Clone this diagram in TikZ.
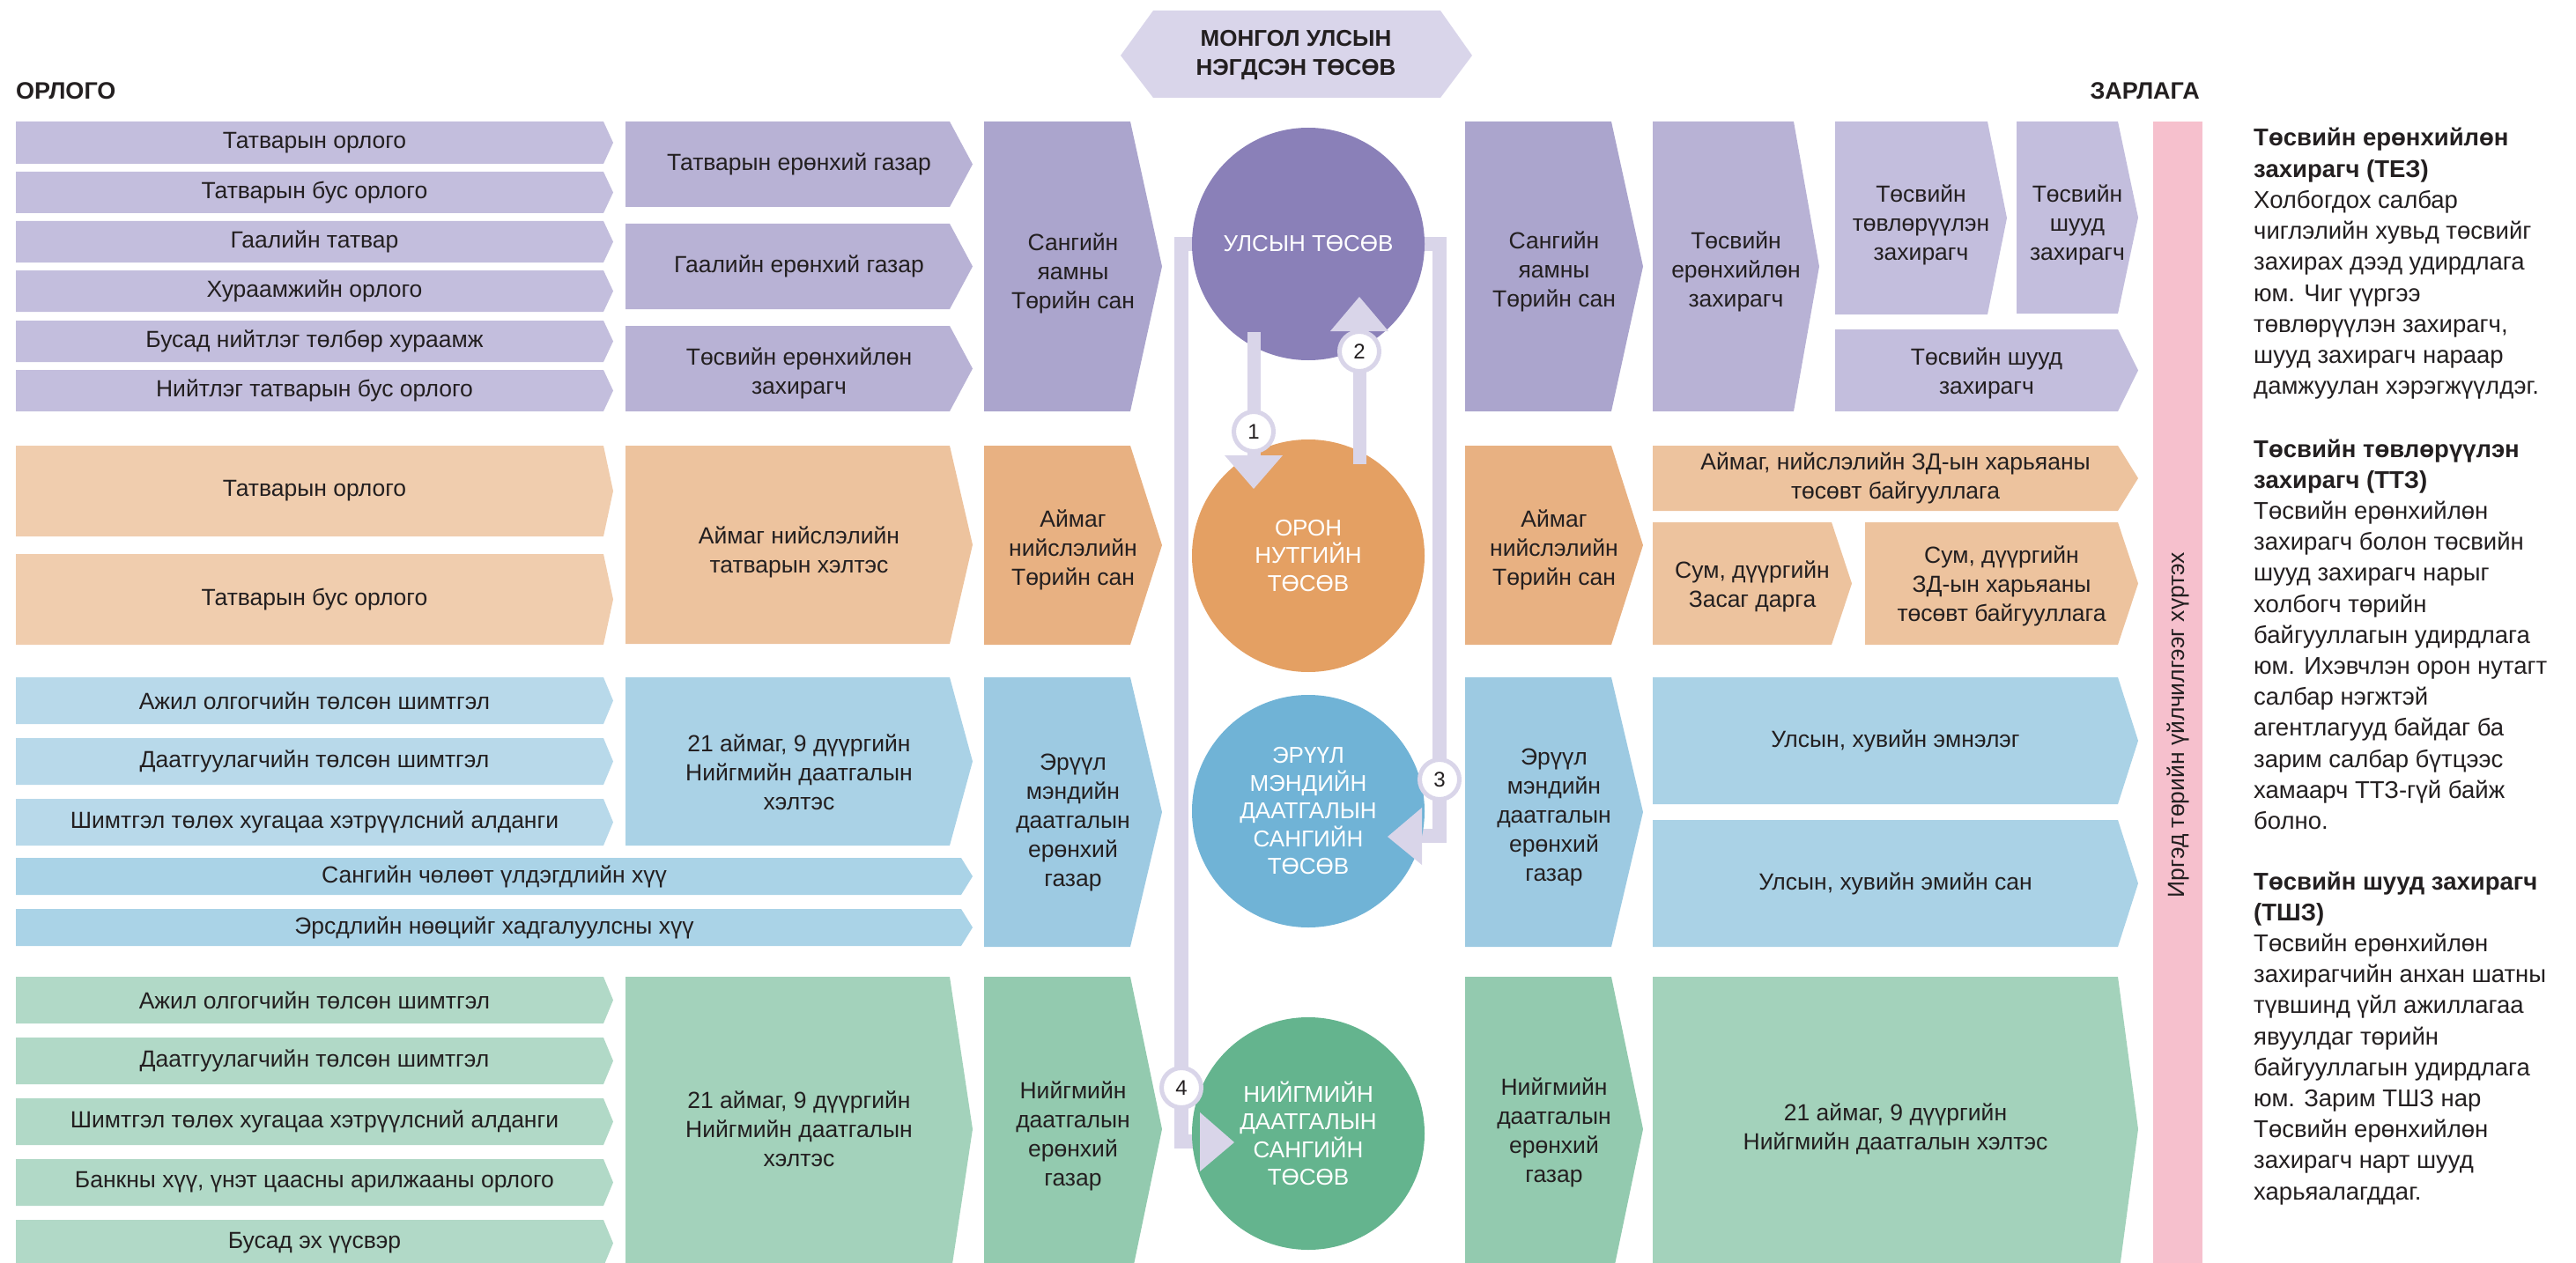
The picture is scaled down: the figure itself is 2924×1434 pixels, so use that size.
\documentclass[tikz,border=0pt]{standalone}
\usepackage{fontspec}
\setmainfont{Liberation Sans}
\usetikzlibrary{calc}
\definecolor{pu1}{HTML}{C3BEDD}
\definecolor{pu2}{HTML}{B8B2D5}
\definecolor{pu3}{HTML}{ABA5CD}
\definecolor{puC}{HTML}{8A80B8}
\definecolor{or1}{HTML}{F0CDAE}
\definecolor{or2}{HTML}{EDC39E}
\definecolor{or3}{HTML}{E8B182}
\definecolor{orC}{HTML}{E4A063}
\definecolor{bl1}{HTML}{B8D9EA}
\definecolor{blW}{HTML}{AAD3E7}
\definecolor{bl2}{HTML}{AAD2E6}
\definecolor{bl3}{HTML}{9DCAE2}
\definecolor{blC}{HTML}{70B3D6}
\definecolor{gr1}{HTML}{B1D9C7}
\definecolor{gr2}{HTML}{A3D2BB}
\definecolor{gr3}{HTML}{93CAAF}
\definecolor{grC}{HTML}{64B48E}
\definecolor{hexc}{HTML}{D9D5EA}
\definecolor{connc}{HTML}{D9D5E9}
\definecolor{pinkc}{HTML}{F6C0CD}
\definecolor{txtc}{HTML}{231F20}
\newcommand\fsz[2]{\fontsize{#1}{#2}\selectfont}
% name, x0, y0, x1, xtip, y1, colour, text dy, text
\newcommand\abox[9]{%
  \fill[#7] (#2,#3) -- (#4,#3) -- (#5,{(#3+#6)/2}) -- (#4,#6) -- (#2,#6) -- cycle;
  \node[btxt] (#1) at ({(#2+#5)/2},{(#3+#6)/2+#8}) {#9};}
\tikzset{
  btxt/.style={align=center, text=txtc, inner sep=0pt, font=\fsz{26.5}{33}},
  bubble/.style={circle, inner sep=0pt, minimum size=264pt, text=white, align=center, font=\fsz{26}{31.5}},
  badge/.style={circle, fill=white, draw=connc, line width=5pt, minimum size=45pt, inner sep=0pt, text=txtc, font=\fsz{24}{24}},
  connl/.style={draw=connc, line width=16pt, line join=miter},
  conna/.style={draw=connc, line width=15pt},
  sidetxt/.style={anchor=base west, inner sep=0pt, text=txtc, font=\fsz{27.5}{35}},
}
\begin{document}
\begin{tikzpicture}[x=1pt,y=-1pt]
\useasboundingbox (0,0) rectangle (2924,1434);
\clip (0,0) rectangle (2924,1434);

% header
\fill[hexc] (1272,63) -- (1309,12) -- (1635,12) -- (1671,63) -- (1635,111) -- (1309,111) -- cycle;
\node[align=center, inner sep=0pt, text=txtc, font=\fsz{26}{33}\bfseries] (head) at (1471,63) {МОНГОЛ УЛСЫН\\НЭГДСЭН ТӨСӨВ};
\node[anchor=west, inner sep=0pt, text=txtc, font=\fsz{27}{30}\bfseries] (orlogo) at (18,103) {ОРЛОГО};
\node[anchor=east, inner sep=0pt, text=txtc, font=\fsz{27}{30}\bfseries] (zarlaga) at (2497,103) {ЗАРЛАГА};

% ---------- purple group ----------
\abox{p11}{18}{138}{685}{696}{186}{pu1}{0}{Татварын орлого}
\abox{p12}{18}{195}{685}{696}{242}{pu1}{0}{Татварын бус орлого}
\abox{p13}{18}{251}{685}{696}{298}{pu1}{0}{Гаалийн татвар}
\abox{p14}{18}{307}{685}{696}{354}{pu1}{0}{Хураамжийн орлого}
\abox{p15}{18}{364}{685}{696}{411}{pu1}{0}{Бусад нийтлэг төлбөр хураамж}
\abox{p16}{18}{420}{685}{696}{467}{pu1}{0}{Нийтлэг татварын бус орлого}
\abox{p21}{710}{138}{1078}{1104}{235}{pu2}{0}{Татварын ерөнхий газар}
\abox{p22}{710}{254}{1078}{1104}{351}{pu2}{0}{Гаалийн ерөнхий газар}
\abox{p23}{710}{370}{1078}{1104}{467}{pu2}{5}{Төсвийн ерөнхийлөн\\захирагч}
\abox{p3}{1117}{138}{1283}{1319}{467}{pu3}{8}{Сангийн\\яамны\\Төрийн сан}
\abox{pr1}{1663}{138}{1829}{1865}{467}{pu3}{6}{Сангийн\\яамны\\Төрийн сан}
\abox{pr2}{1876}{138}{2036}{2065}{467}{pu2}{6}{Төсвийн\\ерөнхийлөн\\захирагч}
\abox{pr3a}{2083}{138}{2256}{2278}{357}{pu1}{8}{Төсвийн\\төвлөрүүлэн\\захирагч}
\abox{pr3b}{2289}{138}{2404}{2427}{356}{pu1}{8}{Төсвийн\\шууд\\захирагч}
\abox{pr3c}{2083}{374}{2404}{2427}{467}{pu1}{3}{Төсвийн шууд\\захирагч}

% ---------- orange group ----------
\abox{o11}{18}{506}{685}{696}{609}{or1}{0}{Татварын орлого}
\abox{o12}{18}{629}{685}{696}{732}{or1}{0}{Татварын бус орлого}
\abox{o2}{710}{506}{1078}{1104}{731}{or2}{8}{Аймаг нийслэлийн\\татварын хэлтэс}
\abox{o3}{1117}{506}{1283}{1319}{732}{or3}{5}{Аймаг\\нийслэлийн\\Төрийн сан}
\abox{or1b}{1663}{506}{1829}{1865}{732}{or3}{5}{Аймаг\\нийслэлийн\\Төрийн сан}
\abox{or2a}{1876}{506}{2404}{2427}{580}{or2}{0}{Аймаг, нийслэлийн ЗД-ын харьяаны\\төсөвт байгууллага}
\abox{or2b}{1876}{593}{2079}{2102}{732}{or2}{3}{Сум, дүүргийн\\Засаг дарга}
\abox{or2c}{2117}{593}{2404}{2427}{732}{or2}{3}{Сум, дүүргийн\\ЗД-ын харьяаны\\төсөвт байгууллага}

% ---------- blue group ----------
\abox{b11}{18}{769}{685}{696}{822}{bl1}{0}{Ажил олгогчийн төлсөн шимтгэл}
\abox{b12}{18}{838}{685}{696}{891}{bl1}{0}{Даатгуулагчийн төлсөн шимтгэл}
\abox{b13}{18}{907}{685}{696}{960}{bl1}{0}{Шимтгэл төлөх хугацаа хэтрүүлсний алданги}
\abox{b14}{18}{974}{1091}{1104}{1016}{blW}{0}{Сангийн чөлөөт үлдэгдлийн хүү}
\abox{b15}{18}{1032}{1091}{1104}{1074}{blW}{0}{Эрсдлийн нөөцийг хадгалуулсны хүү}
\abox{b2}{710}{769}{1078}{1104}{960}{bl2}{12}{21 аймаг, 9 дүүргийн\\Нийгмийн даатгалын\\хэлтэс}
\abox{b3}{1117}{769}{1283}{1319}{1075}{bl3}{12}{Эрүүл\\мэндийн\\даатгалын\\ерөнхий\\газар}
\abox{br1}{1663}{769}{1829}{1865}{1075}{bl3}{6}{Эрүүл\\мэндийн\\даатгалын\\ерөнхий\\газар}
\abox{br2a}{1876}{769}{2404}{2427}{913}{bl2}{0}{Улсын, хувийн эмнэлэг}
\abox{br2b}{1876}{931}{2404}{2427}{1075}{bl2}{0}{Улсын, хувийн эмийн сан}

% ---------- green group ----------
\abox{g11}{18}{1109}{685}{696}{1162}{gr1}{0}{Ажил олгогчийн төлсөн шимтгэл}
\abox{g12}{18}{1178}{685}{696}{1231}{gr1}{0}{Даатгуулагчийн төлсөн шимтгэл}
\abox{g13}{18}{1247}{685}{696}{1300}{gr1}{0}{Шимтгэл төлөх хугацаа хэтрүүлсний алданги}
\abox{g14}{18}{1316}{685}{696}{1369}{gr1}{0}{Банкны хүү, үнэт цаасны арилжааны орлого}
\abox{g15}{18}{1385}{685}{696}{1438}{gr1}{0}{Бусад эх үүсвэр}
\abox{g2}{710}{1109}{1078}{1104}{1455}{gr2}{0}{21 аймаг, 9 дүүргийн\\Нийгмийн даатгалын\\хэлтэс}
\abox{g3}{1117}{1109}{1283}{1319}{1455}{gr3}{8}{Нийгмийн\\даатгалын\\ерөнхий\\газар}
\abox{gr1b}{1663}{1109}{1829}{1865}{1455}{gr3}{4}{Нийгмийн\\даатгалын\\ерөнхий\\газар}
\abox{gr2b}{1876}{1109}{2404}{2427}{1455}{gr2}{0}{21 аймаг, 9 дүүргийн\\Нийгмийн даатгалын хэлтэс}

% ---------- pink bar ----------
\fill[pinkc] (2444,138) rectangle (2500,1434);
\node[rotate=90, inner sep=0pt, text=txtc, font=\fsz{26.5}{30}] (citizens) at (2472,823) {Иргэд төрийн үйлчилгээг хүртэх};

% ---------- connectors behind circles ----------
\node[bubble] (c1) at (1485,277) {};
\coordinate (k4) at (1362,1296);
\coordinate (k3) at (1614,949);
\draw[connl] (c1.center) -- (1341,277) -- (1341,1296) -- (k4);
\draw[connl] (c1.center) -- (1634,277) -- (1634,949) -- (k3);

% ---------- circles ----------
\node[bubble, fill=puC] (c1) at (1485,277) {УЛСЫН ТӨСӨВ};
\node[bubble, fill=orC] (c2) at (1485,631) {ОРОН\\НУТГИЙН\\ТӨСӨВ};
\node[bubble, fill=blC] (c3) at (1485,921) {ЭРҮҮЛ\\МЭНДИЙН\\ДААТГАЛЫН\\САНГИЙН\\ТӨСӨВ};
\node[bubble, fill=grC] (c4) at (1485,1287) {НИЙГМИЙН\\ДААТГАЛЫН\\САНГИЙН\\ТӨСӨВ};

% arrow heads 3 and 4
\fill[connc] (k4) ++(0,-33) -- ++(39,34) -- ++(-39,33) -- cycle;
\fill[connc] (k3) ++(0,-32) -- ++(-39,33) -- ++(39,32) -- cycle;

% arrows 1 and 2
\coordinate (a1s) at (1423,377);
\coordinate (a1e) at (1423,517);
\coordinate (a2s) at (1543,527);
\coordinate (a2e) at (1543,376);
\draw[conna] (a1s) -- (a1e);
\fill[connc] (a1e) ++(-33,0) -- ++(66,0) -- ++(-33,38) -- cycle;
\draw[conna] (a2s) -- (a2e);
\fill[connc] (a2e) ++(-33,0) -- ++(66,0) -- ++(-33,-39) -- cycle;

% badges
\node[badge] (n1) at (1423,490) {1};
\node[badge] (n2) at (1543,399) {2};
\node[badge] (n3) at (1634,885) {3};
\node[badge] (n4) at (1341,1235) {4};

% ---------- side notes ----------
\foreach \t [count=\i from 0] in {{\textbf{Төсвийн ерөнхийлөн}},{\textbf{захирагч (ТЕЗ)}},{Холбогдох салбар},{чиглэлийн хувьд төсвийг},{захирах дээд удирдлага},{юм. Чиг үүргээ},{төвлөрүүлэн захирагч,},{шууд захирагч нараар},{дамжуулан хэрэгжүүлдэг.}}
  \node[sidetxt] (na\i) at (2558,{166+35.2*\i}) {\t};
\foreach \t [count=\i from 0] in {{\textbf{Төсвийн төвлөрүүлэн}},{\textbf{захирагч (ТТЗ)}},{Төсвийн ерөнхийлөн},{захирагч болон төсвийн},{шууд захирагч нарыг},{холбогч төрийн},{байгууллагын удирдлага},{юм. Ихэвчлэн орон нутагт},{салбар нэгжтэй},{агентлагууд байдаг ба},{зарим салбар бүтцээс},{хамаарч ТТЗ-гүй байж},{болно.}}
  \node[sidetxt] (nb\i) at (2558,{519+35.2*\i}) {\t};
\foreach \t [count=\i from 0] in {{\textbf{Төсвийн шууд захирагч}},{\textbf{(ТШЗ)}},{Төсвийн ерөнхийлөн},{захирагчийн анхан шатны},{түвшинд үйл ажиллагаа},{явуулдаг төрийн},{байгууллагын удирдлага},{юм. Зарим ТШЗ нар},{Төсвийн ерөнхийлөн},{захирагч нарт шууд},{харьяалагддаг.}}
  \node[sidetxt] (nc\i) at (2558,{1010+35.2*\i}) {\t};
\end{tikzpicture}
\end{document}
